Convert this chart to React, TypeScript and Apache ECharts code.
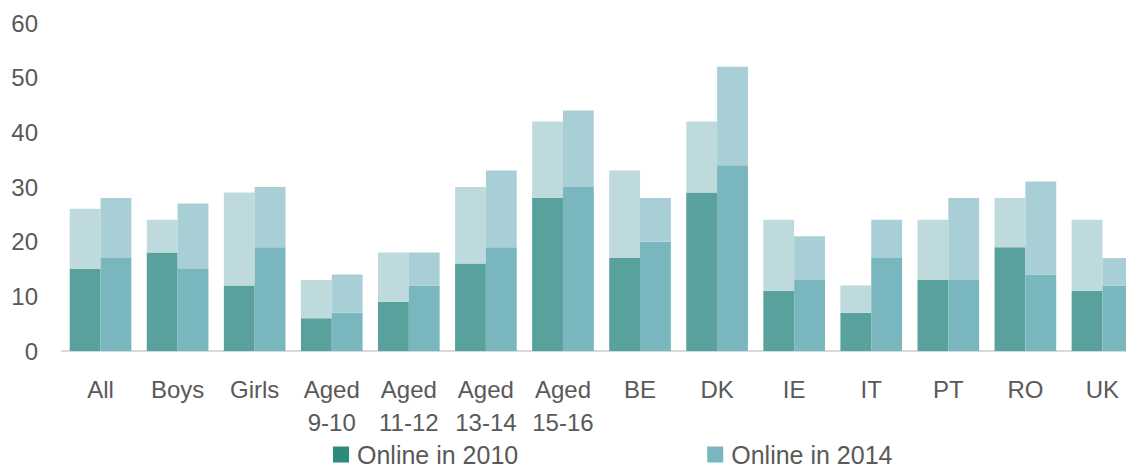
import React, { useEffect, useRef } from "react";
import * as echarts from "echarts";

const categories = ["All", "Boys", "Girls", "Aged\n9-10", "Aged\n11-12", "Aged\n13-14", "Aged\n15-16", "BE", "DK", "IE", "IT", "PT", "RO", "UK"];
const online2010 = [15, 18, 12, 6, 9, 16, 28, 17, 29, 11, 7, 13, 19, 11];
const total2010 = [26, 24, 29, 13, 18, 30, 42, 33, 42, 24, 12, 24, 28, 24];
const online2014 = [17, 15, 19, 7, 12, 19, 30, 20, 34, 13, 17, 13, 14, 12];
const total2014 = [28, 27, 30, 14, 18, 33, 44, 28, 52, 21, 24, 28, 31, 17];
const yTicks = { min: 0, max: 60, interval: 10 };

const FONT = "'Liberation Sans', Arial, sans-serif";
const TXT = "#595959";

export default function App() {
  const ref = useRef<HTMLDivElement>(null);
  useEffect(() => {
    document.body.style.margin = "0";
    const chart = echarts.init(ref.current!, null, { renderer: "svg" });
    const rest2010 = total2010.map((t, i) => t - online2010[i]);
    const rest2014 = total2014.map((t, i) => t - online2014[i]);
    chart.setOption({
      animation: false,
      backgroundColor: "#ffffff",
      textStyle: { fontFamily: FONT },
      grid: {
        left: 62,
        width: 1079,
        top: 23,
        bottom: 119,
        containLabel: false,
        outerBoundsMode: "none",
      },
      legend: {
        left: 333,
        top: 442,
        padding: 0,
        itemWidth: 16,
        itemHeight: 16,
        itemGap: 189,
        icon: "rect",
        textStyle: {
          fontSize: 25,
          lineHeight: 18,
          color: TXT,
          fontFamily: FONT,
          padding: [0, 0, 0, 3],
        },
        data: [
          { name: "Online in 2010", itemStyle: { color: "#2e8b7c" } },
          { name: "Online in 2014", itemStyle: { color: "#7ab6bd" } },
        ],
      },
      xAxis: {
        type: "category",
        data: categories,
        axisLine: { show: true, lineStyle: { color: "#d9d9d9", width: 2 } },
        axisTick: { show: false },
        axisLabel: {
          interval: 0,
          fontSize: 24,
          lineHeight: 33,
          color: TXT,
          fontFamily: FONT,
          margin: 22,
        },
      },
      yAxis: {
        type: "value",
        min: yTicks.min,
        max: yTicks.max,
        interval: yTicks.interval,
        axisLine: { show: false },
        axisTick: { show: false },
        splitLine: { show: false },
        axisLabel: { fontSize: 24, color: TXT, fontFamily: FONT, margin: 24 },
      },
      series: [
        {
          name: "Online in 2010",
          type: "bar",
          stack: "y2010",
          data: online2010,
          itemStyle: { color: "#59a19c" },
          barGap: "0%",
          barCategoryGap: "20%",
        },
        {
          name: "Total 2010",
          type: "bar",
          stack: "y2010",
          data: rest2010,
          itemStyle: { color: "#bedadd" },
        },
        {
          name: "Online in 2014",
          type: "bar",
          stack: "y2014",
          data: online2014,
          itemStyle: { color: "#7ab6bd" },
          barGap: "0%",
          barCategoryGap: "20%",
        },
        {
          name: "Total 2014",
          type: "bar",
          stack: "y2014",
          data: rest2014,
          itemStyle: { color: "#a8cfd5" },
        },
      ],
    });
    return () => chart.dispose();
  }, []);
  return <div ref={ref} style={{ width: 1126, height: 470 }} />;
}
